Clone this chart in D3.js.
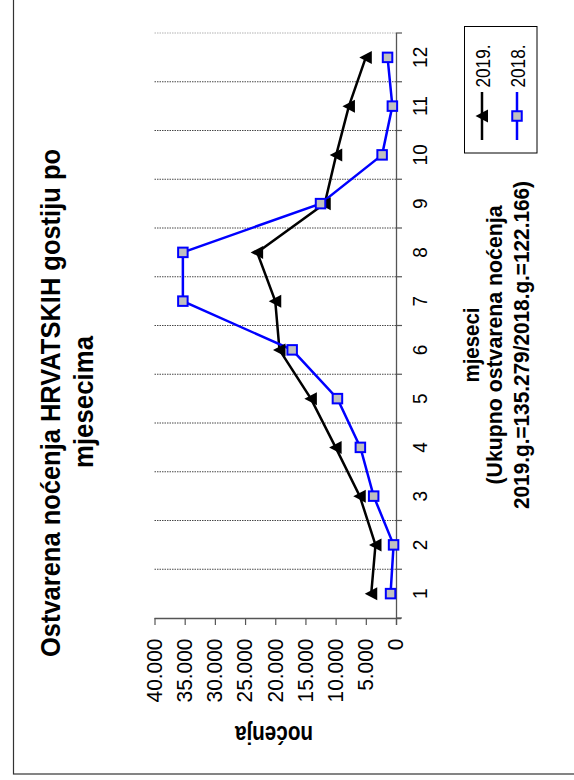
<!DOCTYPE html>
<html><head><meta charset="utf-8">
<script src="https://cdn.jsdelivr.net/npm/d3@7"></script>
<style>html,body{margin:0;padding:0;background:#fff;} svg{display:block} text{font-family:'Liberation Sans', Arial, Helvetica, sans-serif;}</style>
</head><body>
<svg id="chart" width="574" height="780"></svg>
<script>
// ---- data ----
const months = ["1","2","3","4","5","6","7","8","9","10","11","12"];
const series2019 = [4100, 3400, 6000, 10000, 14100, 19300, 20000, 23000, 11800, 9900, 7800, 5000];
const series2018 = [900, 400, 3700, 5900, 9700, 17200, 35300, 35300, 12500, 2300, 600, 1400];
const seriesNames = ["2019.", "2018."];
const valueTicks = [0, 5000, 10000, 15000, 20000, 25000, 30000, 35000, 40000];
const valueTickLabels = ["0", "5.000", "10.000", "15.000", "20.000", "25.000", "30.000", "35.000", "40.000"];
const titleLines = ["Ostvarena noćenja HRVATSKIH gostiju po", "mjesecima"];
const valueAxisTitle = "noćenja";
const categoryAxisTitleLines = ["mjeseci", "(Ukupno ostvarena noćenja", "2019.g.=135.279/2018.g.=122.166)"];

const FONT = "'Liberation Sans', Arial, Helvetica, sans-serif";
const svg = d3.select("#chart");

// outer frame (only left and bottom edges visible)
svg.append("rect").attr("x", 13.5).attr("y", -10).attr("width", 620).attr("height", 784)
  .attr("fill", "none").attr("stroke", "#333").attr("stroke-width", 1.2);

// scales: chart is rotated -90deg: values run right-to-left, months bottom-to-top
const x = d3.scaleLinear().domain([0, 40000]).range([396, 154.5]);
const y = d3.scaleBand().domain(months).range([618, 33]).padding(0);
const bw = y.bandwidth();
const cy = m => y(m) + bw / 2;

// category gridlines (at band boundaries)
const bounds = months.map(m => y(m)); // top edge of each band
svg.append("g").selectAll("line").data(bounds).join("line")
  .attr("x1", x(40000)).attr("x2", x(0))
  .attr("y1", d => d).attr("y2", d => d)
  .attr("stroke", (d, i) => i === months.length - 1 ? "#aaa" : "#333")
  .attr("stroke-width", 0.9)
  .attr("stroke-dasharray", "1.5,1");

// value axis (bottom)
const gx = svg.append("g").attr("transform", "translate(0,618)")
  .call(d3.axisBottom(x).tickValues(valueTicks).tickSize(7)
    .tickFormat((d, i) => valueTickLabels[i]));
gx.attr("font-family", null).attr("font-size", null);
gx.select(".domain").attr("stroke", "#555").attr("stroke-width", 1.3)
  .attr("d", `M${x(40000)},0.5H${x(0) + 5}`);
gx.selectAll(".tick line").attr("stroke", "#555").attr("stroke-width", 1.2);
gx.selectAll(".tick text")
  .attr("x", 0).attr("y", 0).attr("dy", 0)
  .attr("text-anchor", "end")
  .attr("transform", "translate(6.8,20.5) rotate(-90) scale(0.93,1)")
  .style("font-family", FONT).style("font-size", "22.5px").attr("fill", "#000");

// category axis (right)
const gy = svg.append("g").attr("transform", "translate(396,0)")
  .call(d3.axisRight(y).tickSize(0).tickPadding(0));
gy.attr("font-family", null).attr("font-size", null);
gy.select(".domain").attr("stroke", "#555").attr("stroke-width", 1.3)
  .attr("d", `M0.5,33V625`);
gy.selectAll(".tick text")
  .attr("x", 0).attr("y", 0).attr("dy", 0)
  .attr("text-anchor", "middle")
  .attr("transform", "translate(31,0) rotate(-90) scale(0.95,1)")
  .style("font-family", FONT).style("font-size", "20px").attr("fill", "#000");
// boundary tick marks
gy.append("g").selectAll("line").data(bounds.concat([618])).join("line")
  .attr("x1", 0).attr("x2", 6).attr("y1", d => d).attr("y2", d => d)
  .attr("stroke", "#555").attr("stroke-width", 1.2);

// series lines
const pts19 = months.map((m, i) => ({m, v: series2019[i]}));
const pts18 = months.map((m, i) => ({m, v: series2018[i]}));
const line = d3.line().x(d => x(d.v)).y(d => cy(d.m));

svg.append("path").datum(pts19).attr("d", line)
  .attr("fill", "none").attr("stroke", "#000").attr("stroke-width", 2.5);
svg.append("path").datum(pts18).attr("d", line)
  .attr("fill", "none").attr("stroke", "#0000ff").attr("stroke-width", 2.5);

const tri = "M-6.5,0L6,-6.5L6,6.5Z";
svg.append("g").selectAll("path").data(pts19).join("path")
  .attr("d", tri)
  .attr("transform", d => `translate(${x(d.v)},${cy(d.m)})`)
  .attr("fill", "#000");
svg.append("g").selectAll("rect").data(pts18).join("rect")
  .attr("x", d => x(d.v) - 4.75).attr("y", d => cy(d.m) - 4.75)
  .attr("width", 9.5).attr("height", 9.5)
  .attr("fill", "#c0c0c0").attr("stroke", "#0000ff").attr("stroke-width", 2);

// title
svg.append("text").text(titleLines[0])
  .attr("transform", "translate(59.5,403) rotate(-90)")
  .attr("text-anchor", "middle").style("font-family", FONT).attr("font-weight", "bold")
  .style("font-size", "28px").attr("textLength", 508).attr("lengthAdjust", "spacingAndGlyphs");
svg.append("text").text(titleLines[1])
  .attr("transform", "translate(93.3,402) rotate(-90)")
  .attr("text-anchor", "middle").style("font-family", FONT).attr("font-weight", "bold")
  .style("font-size", "28px").attr("textLength", 132).attr("lengthAdjust", "spacingAndGlyphs");

// value axis title (upside down)
svg.append("text").text(valueAxisTitle)
  .attr("transform", "translate(274,725.5) rotate(180)")
  .attr("text-anchor", "middle").style("font-family", FONT).attr("font-weight", "bold")
  .style("font-size", "25px").attr("textLength", 78).attr("lengthAdjust", "spacingAndGlyphs");

// category axis title
const catTitlePos = [[479, 75], [501.5, 279], [528.5, 328]];
categoryAxisTitleLines.forEach((t, i) => {
  svg.append("text").text(t)
    .attr("transform", `translate(${catTitlePos[i][0]},345) rotate(-90)`)
    .attr("text-anchor", "middle").style("font-family", FONT).attr("font-weight", "bold")
    .style("font-size", "21.5px").attr("textLength", catTitlePos[i][1]).attr("lengthAdjust", "spacingAndGlyphs");
});

// legend
svg.append("rect").attr("x", 464.5).attr("y", 26.5).attr("width", 72.5).attr("height", 126.5)
  .attr("fill", "#fff").attr("stroke", "#000").attr("stroke-width", 1);
const legendX = [482, 517];
seriesNames.forEach((name, i) => {
  const lx = legendX[i];
  const col = i === 0 ? "#000" : "#0000ff";
  svg.append("line").attr("x1", lx).attr("x2", lx).attr("y1", 92).attr("y2", 140)
    .attr("stroke", col).attr("stroke-width", 2.5);
  if (i === 0) {
    svg.append("path").attr("d", tri).attr("transform", `translate(${lx},116)`).attr("fill", "#000");
  } else {
    svg.append("rect").attr("x", lx - 4.75).attr("y", 116 - 4.75).attr("width", 9.5).attr("height", 9.5)
      .attr("fill", "#c0c0c0").attr("stroke", "#0000ff").attr("stroke-width", 2);
  }
  svg.append("text").text(name)
    .attr("transform", `translate(${lx + 8},87.5) rotate(-90)`)
    .attr("text-anchor", "start").style("font-family", FONT)
    .style("font-size", "21px").attr("textLength", 43).attr("lengthAdjust", "spacingAndGlyphs");
});
</script>
</body></html>
